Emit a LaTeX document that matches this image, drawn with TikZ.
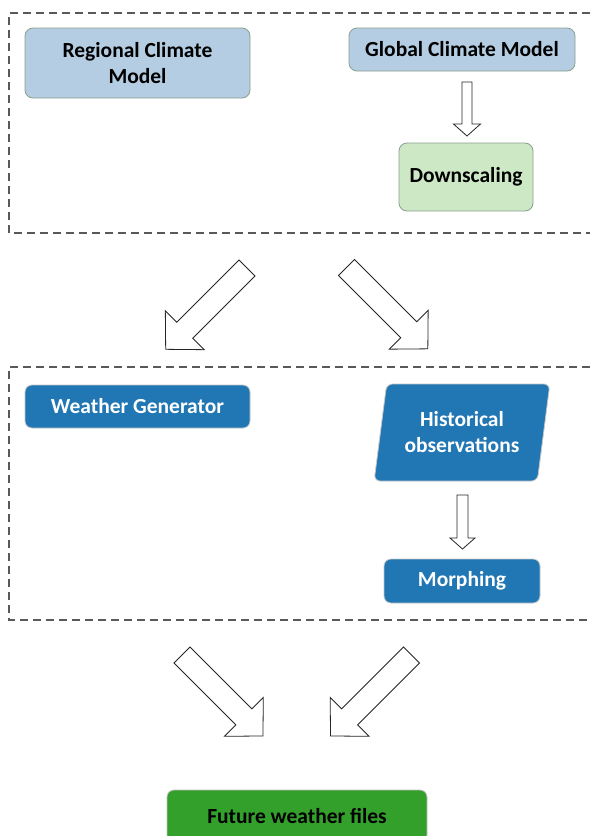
\documentclass[tikz,border=0pt]{standalone}
\usepackage{fontspec}
\setmainfont{Carlito}
\usepackage{xcolor}
\usepackage{tikz}
\usetikzlibrary{positioning,shapes.geometric,calc}

\definecolor{rcmblue}{HTML}{B4CDE2}
\definecolor{dsgreen}{HTML}{CDE8C4}
\definecolor{wgblue}{HTML}{2176B4}
\definecolor{fwgreen}{HTML}{34A02C}
\definecolor{edgegray}{HTML}{8A9E8E}

\begin{document}
\begin{tikzpicture}[
  x=1pt, y=-1pt,
  font=\fontsize{21.5}{26}\selectfont\bfseries,
  light/.style={draw=edgegray, line width=0.8pt, rounded corners=8pt, align=center, inner sep=0pt},
  dark/.style={draw=gray!45, line width=0.8pt, rounded corners=7pt, fill=wgblue, text=white, align=center, inner sep=0pt},
  group/.style={draw=black!65, line width=1.2pt, dash pattern=on 8pt off 5pt},
  blockarr/.style={draw=black!85, line width=0.8pt, fill=white, line join=miter},
  pics/blockarrow/.style args={#1/#2/#3/#4}{code={
    % länge / halbe schaftbreite / halbe spitzenbreite / spitzenlänge
    \draw[blockarr] (0,-#2) -- (#1-#4,-#2) -- (#1-#4,-#3) -- (#1,0)
      -- (#1-#4,#3) -- (#1-#4,#2) -- (0,#2) -- cycle;
  }},
]
\useasboundingbox (0,0) rectangle (590,836);

% obere gruppe: klimamodelle
\draw[group] (590,13) -- (9,13) -- (9,233) -- (590,233);
\node[light, fill=rcmblue, minimum width=225pt, minimum height=70pt] (rcm) at (137.5,63)
  {Regional Climate\\Model};
\node[light, fill=rcmblue, minimum width=226pt, minimum height=43pt] (gcm) at (462,49.5)
  {Global Climate Model};
\node[light, fill=dsgreen, minimum width=134pt, minimum height=68pt] (ds) at (466,177)
  {Downscaling};
\pic[rotate=-90] at (467,82) {blockarrow=54/5/13.5/12};

% übergang zur zweiten gruppe
\pic[rotate=-135] at (247,268) {blockarrow=115/11.3/27.5/27};
\pic[rotate=-45] at (346.5,267.5) {blockarrow=115/11.3/27.5/27};

% untere gruppe: generator und morphing
\draw[group] (590,367) -- (9,367) -- (9,620) -- (590,620);
\node[dark, minimum width=225pt, minimum height=43pt] (wg) at (137.5,406.5)
  {Weather Generator};
\node[trapezium, trapezium left angle=77, trapezium right angle=103, trapezium stretches=true,
      draw=gray!45, line width=0.8pt, rounded corners=6pt, fill=wgblue, text=white, align=center,
      minimum width=176pt, minimum height=97pt, inner sep=0pt] (ho) at (462,432.5)
  {Historical\\observations};
\node[dark, minimum width=156pt, minimum height=44pt] (mo) at (462,581)
  {Morphing};
\pic[rotate=-90] at (462.5,495) {blockarrow=54/5.5/12.5/11};

% zusammenführung
\pic[rotate=-45] at (182,655) {blockarrow=114.5/11.3/27.5/27};
\pic[rotate=-135] at (411.5,655) {blockarrow=114.5/11.3/27.5/27};

\node[dark, draw=gray!50, fill=fwgreen, text=black, minimum width=260pt, minimum height=52pt] (fw) at (297,816)
  {Future weather files};
\end{tikzpicture}
\end{document}
